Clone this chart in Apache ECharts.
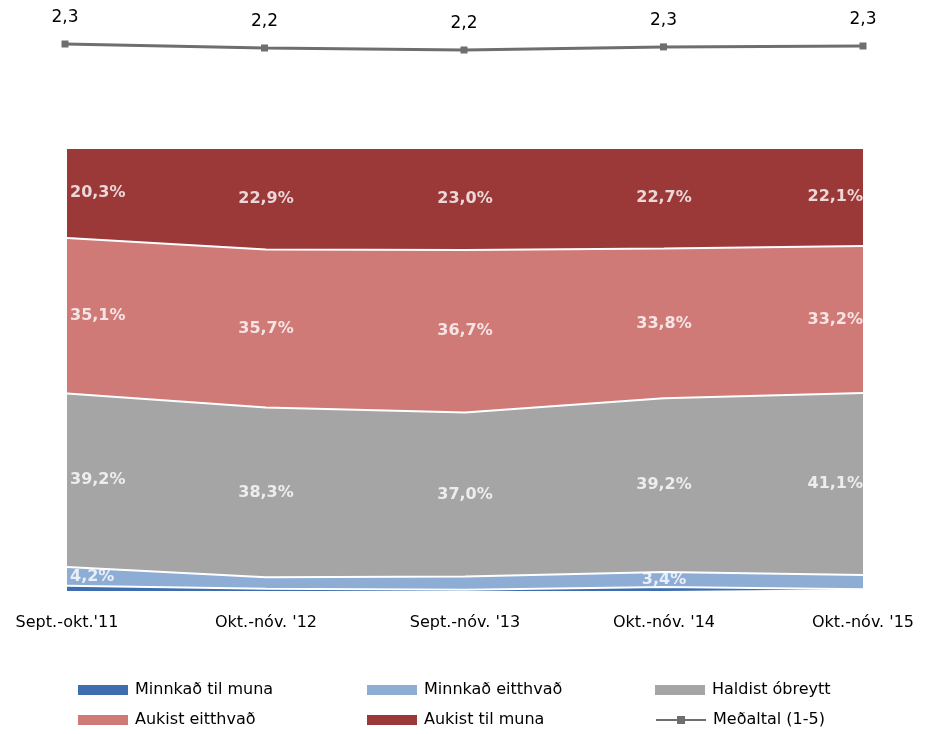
<!DOCTYPE html>
<html><head><meta charset="utf-8">
<script src="https://cdn.jsdelivr.net/npm/echarts@6/dist/echarts.min.js"></script>
<style>html,body{margin:0;padding:0;background:#fff}#c{width:936px;height:734px}</style>
</head><body><div id="c"></div>
<script>
const categories = ["Sept.-okt.'11", "Okt.-nóv. '12", "Sept.-nóv. '13", "Okt.-nóv. '14", "Okt.-nóv. '15"];
const minnkadTilMuna = [1.2, 0.5, 0.3, 0.9, 0.4];
const minnkadEitthvad = [4.2, 2.6, 3.0, 3.4, 3.2];
const haldistObreytt = [39.2, 38.3, 37.0, 39.2, 41.1];
const aukistEitthvad = [35.1, 35.7, 36.7, 33.8, 33.2];
const aukistTilMuna = [20.3, 22.9, 23.0, 22.7, 22.1];
const medaltal = [2.28, 2.24, 2.22, 2.251, 2.26];

const names = ['Minnkað til muna', 'Minnkað eitthvað', 'Haldist óbreytt', 'Aukist eitthvað', 'Aukist til muna'];
const colors = ['#3E6DB0', '#8DADD5', '#A5A5A5', '#D07A77', '#9B3838'];
const stackData = [minnkadTilMuna, minnkadEitthvad, haldistObreytt, aukistEitthvad, aukistTilMuna];
const labelVisible = [
  [false, false, false, false, false],
  [true, false, false, true, false],
  [true, true, true, true, true],
  [true, true, true, true, true],
  [true, true, true, true, true]
];
const FONT = "'DejaVu Sans', sans-serif";
const fmt = v => v.toFixed(1).replace('.', ',');

const chart = echarts.init(document.getElementById('c'));
const series = [];
stackData.forEach((d, i) => {
  series.push({
    name: names[i], type: 'line', stack: 'total', xAxisIndex: 0, yAxisIndex: 0,
    data: d, symbol: 'none', smooth: false,
    lineStyle: { color: '#ffffff', width: 2 },
    itemStyle: { color: colors[i] },
    areaStyle: { color: colors[i], opacity: 1 },
    emphasis: { disabled: true }, z: 2
  });
});
// label helper series at band midpoints
stackData.forEach((d, i) => {
  const pts = d.map((v, j) => {
    let below = 0;
    for (let k = 0; k < i; k++) below += stackData[k][j];
    const lab = {
      show: labelVisible[i][j],
      align: j === 0 ? 'left' : (j === d.length - 1 ? 'right' : 'center'),
      offset: j === 0 ? [3, 0] : [0, 0]
    };
    return { value: below + v / 2, raw: v, label: lab };
  });
  series.push({
    type: 'scatter', xAxisIndex: 0, yAxisIndex: 0, symbolSize: 0, data: pts, z: 5,
    silent: true, itemStyle: { color: colors[i] },
    label: {
      show: true, position: 'inside', color: '#ffffff', fontWeight: 'bold',
      fontFamily: FONT, fontSize: 16, textBorderWidth: 0, textBorderColor: 'transparent',
      formatter: p => fmt(p.data.raw) + '%'
    },
    emphasis: { disabled: true }
  });
});
series.push({
  name: 'Meðaltal (1-5)', type: 'line', xAxisIndex: 1, yAxisIndex: 1, data: medaltal,
  symbol: 'rect', symbolSize: 7, lineStyle: { color: '#6E6E6E', width: 3 },
  itemStyle: { color: '#6E6E6E' },
  label: { show: true, position: 'top', distance: 14, color: '#000', fontSize: 17, fontFamily: FONT,
    formatter: p => fmt(p.value) },
  emphasis: { disabled: true }
});

const legendPos = [[73, 677], [362, 677], [650, 677], [73, 707], [362, 707], [650, 707]];
const legendNames = ['Minnkað til muna', 'Minnkað eitthvað', 'Haldist óbreytt', 'Aukist eitthvað', 'Aukist til muna', 'Meðaltal (1-5)'];
const legends = legendNames.map((n, i) => ({
  data: [n], left: legendPos[i][0], top: legendPos[i][1], itemWidth: 50, itemHeight: 10, itemGap: 0,
  icon: i === 5 ? undefined : 'rect', selectedMode: false,
  textStyle: { fontSize: 16, fontFamily: FONT, color: '#000', padding: [0, 0, 0, 2] }
}));

chart.setOption({
  animation: false,
  backgroundColor: '#ffffff',
  legend: legends,
  grid: [
    { left: 67, right: 73, top: 148, bottom: 143 },
    { left: 65, right: 73, top: 32, height: 40 }
  ],
  xAxis: [
    { type: 'category', data: categories, boundaryGap: false, gridIndex: 0,
      axisLine: { show: false }, axisTick: { show: false },
      axisLabel: { color: '#000', fontSize: 16, fontFamily: FONT, margin: 24, interval: 0 } },
    { type: 'category', data: categories, boundaryGap: false, gridIndex: 1, show: false }
  ],
  yAxis: [
    { type: 'value', min: 0, max: 100, gridIndex: 0, show: false },
    { type: 'value', min: 2.0, max: 2.4, gridIndex: 1, show: false }
  ],
  series: series
});
</script></body></html>
